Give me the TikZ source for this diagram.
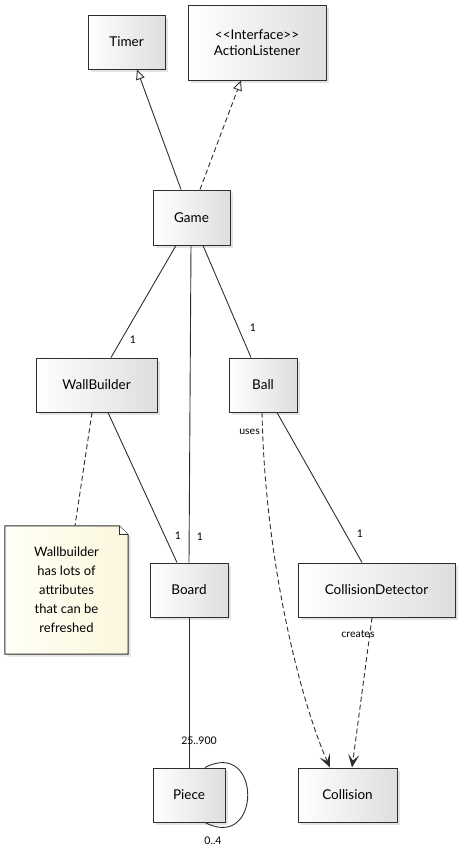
\documentclass[tikz,border=0pt]{standalone}
\usepackage{fontspec}
\setmainfont{Lato}
\usetikzlibrary{arrows.meta,shadows,calc}
\definecolor{edgecol}{HTML}{2E2E2E}
\definecolor{boxdark}{HTML}{DEDEDE}
\definecolor{notelight}{HTML}{FFFFF6}
\definecolor{notedark}{HTML}{FBF6DC}
\begin{document}
\begin{tikzpicture}[x=1pt,y=-1pt,
  cls/.style={draw=edgecol, line width=1pt, left color=white, right color=boxdark,
    drop shadow={shadow xshift=2.5pt, shadow yshift=-2.5pt, opacity=0.22},
    inner sep=0pt, align=center, font=\fontsize{13.5}{16}\selectfont},
  lbl/.style={font=\fontsize{10.5}{12}\selectfont, inner sep=0pt, text=black},
  assoc/.style={draw=edgecol, line width=0.9pt},
  gen/.style={assoc, -{Triangle[open, length=10pt, width=9pt, fill=white]}},
  real/.style={gen, dash pattern=on 5pt off 3pt},
  dep/.style={assoc, dash pattern=on 5pt off 3pt, -{Stealth[length=13pt, width=11pt, inset=6pt, line width=1.2pt]}},
  notelink/.style={assoc, dash pattern=on 5pt off 3pt}
]
\useasboundingbox (0,0) rectangle (459,860);

% classes
\node[cls, minimum width=77pt, minimum height=54pt] (timer) at (126.5,42) {Timer};
\node[cls, minimum width=138pt, minimum height=75pt] (al) at (257,42.5) {<{}<Interface>{}>\\ActionListener};
\node[cls, minimum width=77pt, minimum height=55pt] (game) at (191.5,217.5) {Game};
\node[cls, minimum width=121pt, minimum height=54pt] (wb) at (96.5,385) {WallBuilder};
\node[cls, minimum width=68pt, minimum height=54pt] (ball) at (263,385) {Ball};
\node[cls, minimum width=78pt, minimum height=54pt] (board) at (189,590) {Board};
\node[cls, minimum width=157pt, minimum height=54pt] (cd) at (376.5,590) {CollisionDetector};
\node[cls, minimum width=72pt, minimum height=54pt] (piece) at (189,795) {Piece};
\node[cls, minimum width=99pt, minimum height=54pt] (coll) at (347.5,795) {Collision};

% note
\node[minimum width=123pt, minimum height=128pt, inner sep=0pt] (note) at (66.5,590) {};
\path[draw=edgecol, line width=1pt, left color=notelight, right color=notedark,
    drop shadow={shadow xshift=2.5pt, shadow yshift=-2.5pt, opacity=0.22}]
  (note.north west) -- ($(note.north east)+(-9,0)$) -- ($(note.north east)+(0,9)$)
  -- (note.south east) -- (note.south west) -- cycle;
\draw[edgecol, line width=0.9pt, fill=white] ($(note.north east)+(-9,0)$) -- ($(note.north east)+(-9,9)$) -- ($(note.north east)+(0,9)$);
\node[align=center, font=\fontsize{13}{19}\selectfont, inner sep=0pt] (notetext) at (note.center) {Wallbuilder\\has lots of\\attributes\\that can be\\refreshed};

% inheritance
\draw[gen] ($(game.north)+(-10.5,0)$) -- ($(timer.south)+(10.5,0)$);
\draw[real] ($(game.north)+(8.5,0)$) -- ($(al.south)+(-16,0)$);

% associations
\draw[assoc] ($(game.south)+(-15.5,0)$) -- ($(wb.north)+(14.5,0)$);
\draw[assoc] ($(game.south)+(-0.5,0)$) -- (board.north);
\draw[assoc] ($(game.south)+(11.5,0)$) -- ($(ball.north)+(-12,0)$);
\draw[assoc] ($(wb.south)+(11.5,0)$) -- ($(board.north)+(-12,0)$);
\draw[notelink] ($(wb.south)+(-4.5,0)$) -- ($(note.north)+(8.5,0)$);
\draw[assoc] ($(ball.south)+(14,0)$) -- ($(cd.north)+(-14.5,0)$);
\draw[assoc] (board.south) -- (piece.north);
\draw[assoc] ($(piece.north)+(16,0)$) .. controls (262,738) and (262,852) .. ($(piece.south)+(16,0)$);

% dependencies
\draw[dep] ($(ball.south)+(-1,0)$) .. controls (265,560) and (300,700) .. ($(coll.north)+(-17.5,0)$);
\draw[dep] ($(cd.south)+(-4.5,0)$) -- ($(coll.north)+(4.5,0)$);

% labels
\node[lbl] (l1) at (133,340) {1};
\node[lbl] (l2) at (253,328) {1};
\node[lbl] (l3) at (178,536) {1};
\node[lbl] (l4) at (200,537) {1};
\node[lbl] (l5) at (360,534) {1};
\node[lbl, anchor=east] (luses) at (260,432) {uses};
\node[lbl] (lcreates) at (358,634) {creates};
\node[lbl] (lmany) at (199,741) {25..900};
\node[lbl] (lfour) at (213,841) {0..4};
\end{tikzpicture}
\end{document}
